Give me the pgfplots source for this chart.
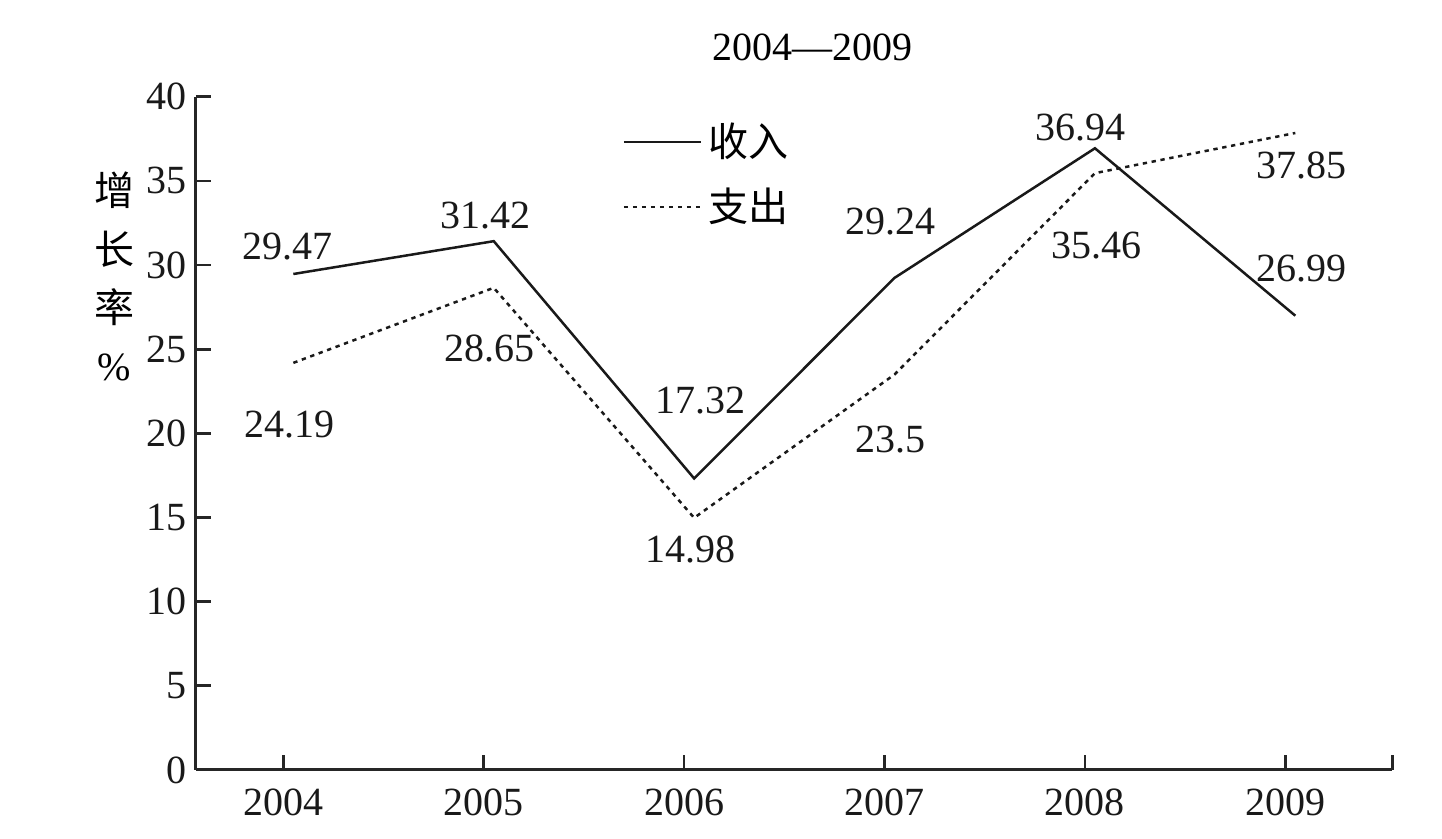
\documentclass[border=0pt]{standalone}
\usepackage{fontspec}
\setmainfont{Liberation Serif}
\newfontfamily\cjk{Noto Sans CJK SC}
\usepackage{pgfplots}
\pgfplotsset{compat=1.18}
\newcommand{\fs}{\fontsize{12}{14.5}\selectfont}
\begin{document}
\begin{tikzpicture}
\begin{axis}[
  scale only axis,
  width=358.8pt, height=201.9pt,
  xmin=2003.564, xmax=2009.534,
  ymin=0, ymax=40,
  axis x line=bottom, axis y line=left,
  axis line style={-, line width=0.9pt, black!85},
  tick style={line width=0.8pt, black!85},
  tick align=inside,
  major tick length=4.4pt,
  xtick={2004,2005,2006,2007,2008,2009,2009.534},
  xticklabels={2004,2005,2006,2007,2008,2009,},
  ytick={0,5,10,15,20,25,30,35,40},
  /pgf/number format/assume math mode=true,
  /pgf/number format/1000 sep={},
  tick label style={font=\fs, black!90},
  xticklabel style={yshift=-2pt},
  yticklabel style={xshift=0.8pt},
  clip=false,
  legend style={at={(axis cs:2005.69,38.9)}, anchor=north west, draw=none, fill=none,
     font=\fs\cjk, row sep=4pt, inner sep=0pt},
  legend cell align=left,
  legend image code/.code={\draw[#1] (0pt,0pt) -- (23pt,0pt);},
]
\addplot[line width=0.75pt, black!90] coordinates {
 (2004.05,29.47) (2005.05,31.42) (2006.05,17.32) (2007.05,29.24) (2008.05,36.94) (2009.05,26.99)};
\addlegendentry{收入}
\addplot[line width=0.75pt, black!90, dash pattern=on 1.3pt off 1.4pt] coordinates {
 (2004.05,24.19) (2005.05,28.65) (2006.05,14.98) (2007.05,23.5) (2008.05,35.46) (2009.05,37.85)};
\addlegendentry{支出}
\path (axis cs:2002.586,-4.10) rectangle (axis cs:2009.782,45.75);
\node[font=\fs] at (axis cs:2006.64,42.96) {2004—2009};
\node[font=\fs, align=center] at (axis cs:2003.155,29.3) {{\cjk 增}\\[3pt]{\cjk 长}\\[3pt]{\cjk 率}\\[3pt]\%};
\begin{scope}[every node/.style={font=\fs, black!90}]
\node at (axis cs:2004.02,31.08) {29.47};
\node at (axis cs:2005.01,32.92) {31.42};
\node at (axis cs:2006.08,21.98) {17.32};
\node at (axis cs:2007.03,32.56) {29.24};
\node at (axis cs:2007.98,38.15) {36.94};
\node at (axis cs:2009.08,29.77) {26.99};
\node at (axis cs:2004.03,20.50) {24.19};
\node at (axis cs:2005.03,25.07) {28.65};
\node at (axis cs:2006.03,13.13) {14.98};
\node at (axis cs:2007.03,19.61) {23.5};
\node at (axis cs:2008.06,31.19) {35.46};
\node at (axis cs:2009.08,35.89) {37.85};
\end{scope}
\end{axis}
\end{tikzpicture}
\end{document}
